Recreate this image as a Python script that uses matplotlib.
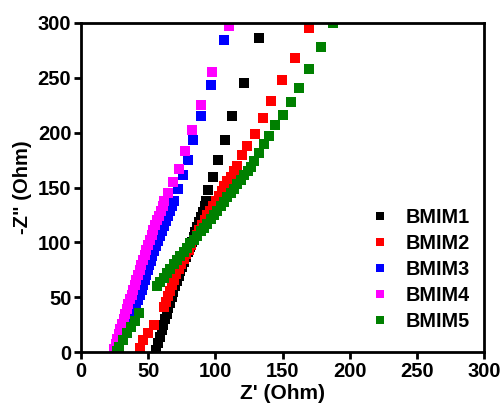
import matplotlib
matplotlib.use("Agg")
import matplotlib.pyplot as plt

plt.rcParams['font.family'] = ['Liberation Sans', 'DejaVu Sans']
plt.rcParams['font.weight'] = 'bold'

# Nyquist data, Z' and -Z" in Ohm
bmim1_x = [55.5, 57, 58.5, 60, 61.3, 62.5, 63.8, 65, 66.3, 67.5, 68.8, 70, 71.3, 72.6, 74, 75.4,
           76.8, 78.2, 79.6, 81, 82.4, 83.8, 85.2, 86.6, 88, 89.4, 90.8, 92, 93,
           94.3, 98, 101.7, 107.2, 112.4, 121.6, 132.8]
bmim1_y = [2, 8, 14, 20, 25, 30, 35, 40, 45, 50, 55, 60, 64.5, 69, 73.5, 78,
           82.5, 87, 91.5, 96, 100.5, 105, 109.5, 114, 118.5, 123, 128, 133, 138,
           148, 160, 175, 193, 215, 244.8, 286.5]

bmim2_x = [44, 46.5, 50, 54, 61.5, 63, 64.5, 66, 67.5, 69.2, 71, 72.8, 74.6, 76.4, 78.3, 80.2,
           82.1, 84, 86, 88, 90, 92, 94, 96, 98, 100.2, 102.4, 104.6, 106.8, 109, 111.4,
           113.8, 116, 119.6, 123.4, 129.8, 135.8, 141.5, 149.4, 159.4, 170]
bmim2_y = [4, 11, 17, 25, 41, 46, 51, 56, 61, 66, 71, 75.5, 80, 84.5, 89, 93.5,
           98, 102.5, 107, 111.5, 116, 120.5, 125, 129, 133, 137.5, 142, 146.5, 151, 155.5, 160,
           165, 170, 179.6, 188, 198.7, 213, 228.8, 247.7, 267.7, 295.6]

bmim3_x = [27, 28.5, 30, 31.5, 33, 34.6, 36.2, 37.8, 39.4, 41, 42.6, 44, 45.2, 46.3, 47.4, 48.6,
           49.7, 50.8, 51.9, 53, 54.1, 55.6, 57.1, 58.6, 60.1, 61.6, 63.1, 64.6, 66.1, 67.6, 69,
           72, 75.7, 79.4, 83.6, 89.3, 96.5, 106.4]
bmim3_y = [3, 7, 11.5, 16, 20.5, 25, 29.5, 34, 38.5, 43, 47.5, 52, 56.5, 61, 65.5, 70,
           74.5, 79, 83.5, 88, 92.5, 97, 101.5, 106, 110.5, 115, 119.5, 124, 128.5, 133, 138,
           149, 161, 175, 193, 215, 243.5, 284]

bmim4_x = [24.5, 25.7, 26.9, 28.1, 29.3, 30.5, 31.7, 32.9, 34.1, 35.3, 36.5, 37.7, 38.9, 40.1,
           41.3, 42.5, 43.7, 44.9, 46.1, 47.3, 48.5, 49.9, 51.2, 52.6, 53.9, 55.3, 56.6, 58,
           59.3, 60.7, 62, 65, 68.7, 72.7, 77.7, 82.6, 89.3, 97.5, 110.4]
bmim4_y = [3, 7.5, 12, 16.5, 21, 25.5, 30, 34.5, 39, 43.5, 48, 52.5, 57, 61.5,
           66, 70.5, 75, 79.5, 84, 88.5, 93, 97.5, 102, 106.5, 111, 115.5, 120, 124.5,
           129, 133.5, 138, 145, 155, 167, 183.5, 202, 225, 255, 297]

bmim5_x = [26.5, 28.5, 31, 34, 37.5, 40, 43,
           56.5, 59, 61.5, 64, 66.5, 69, 71.5, 74, 76.5, 79, 81.5, 84, 86.5, 89, 91.5, 94,
           96.5, 99, 101.5, 104, 106.5, 109, 111.5, 114, 116.5, 119, 121.5, 124, 126.5, 128.8,
           132.8, 136.3, 140.2, 144.5, 150.2, 156.4, 162.5, 170, 178.5, 187.4]
bmim5_y = [1, 5, 11, 17, 23, 28, 36,
           60, 64, 68, 72, 76, 80, 84, 87.5, 91, 95, 99, 102.5, 106, 110, 113.5, 117,
           121, 125, 129, 133, 137, 141, 145, 149, 153, 157, 161, 165, 169, 174,
           181.7, 189.3, 197, 207, 216, 228, 241, 258, 277.7, 299.6]

series = [
    ('BMIM1', bmim1_x, bmim1_y, '#000000'),
    ('BMIM2', bmim2_x, bmim2_y, '#ff0000'),
    ('BMIM3', bmim3_x, bmim3_y, '#0000ff'),
    ('BMIM4', bmim4_x, bmim4_y, '#ff00ff'),
    ('BMIM5', bmim5_x, bmim5_y, '#008000'),
]

fig = plt.figure(figsize=(5.0, 4.09), dpi=100)
ax = fig.add_axes([0.162, 0.139, 0.806, 0.805])

for name, xs, ys, col in series:
    ax.plot(xs, ys, 's', color=col, markersize=6.5, markeredgewidth=0, label=name)

ax.set_xlim(0, 300)
ax.set_ylim(0, 300)
ax.set_xticks(range(0, 301, 50))
ax.set_yticks(range(0, 301, 50))
ax.tick_params(direction='out', length=5, width=2, labelsize=14.5, pad=2)
for sp in ax.spines.values():
    sp.set_linewidth(2)

ax.set_xlabel("Z' (Ohm)", fontsize=15, fontweight='bold', labelpad=2)
ax.set_ylabel('-Z" (Ohm)', fontsize=14.5, fontweight='bold', labelpad=4)

ax.legend(loc='lower right', bbox_to_anchor=(1.01, 0.01), frameon=False,
          fontsize=14.3, markerscale=0.8, handlelength=1.0, handletextpad=0.8,
          labelspacing=0.35)

fig.savefig('out.png', dpi=100)
